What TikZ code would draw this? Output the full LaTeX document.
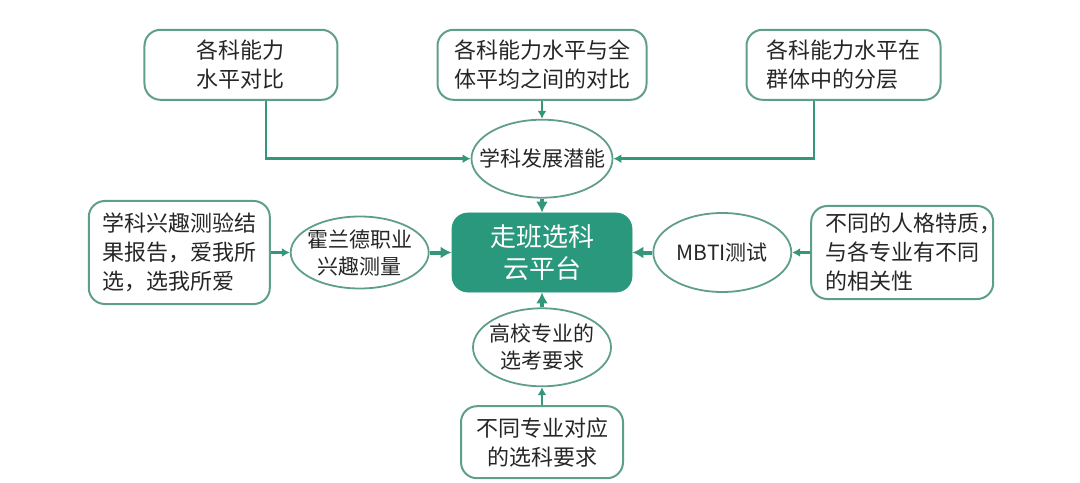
\documentclass[tikz,border=0pt]{standalone}
\usepackage{fontspec}
\newfontfamily\cjk{Noto Sans CJK SC}
\usepackage{tikz}
\usetikzlibrary{shapes,arrows.meta,positioning}
\usepackage{color}
\definecolor{zbteal}{RGB}{42,152,124}
\definecolor{zbline}{RGB}{95,158,138}
\definecolor{zbarrow}{RGB}{52,150,122}
\definecolor{zbtext}{RGB}{38,38,38}

\begin{document}
\begin{tikzpicture}[auto, >={Latex[length=4pt,width=4.5pt]},
	box/.style={draw=zbline, line width=1pt, rounded corners=8pt, text=zbtext, align=center,
		font=\cjk\fontsize{11}{14.5}\selectfont},
	oval/.style={draw=zbline, line width=0.9pt, ellipse, inner sep=0pt, minimum width=69pt},
	ovaltext/.style={text=zbtext, align=center, font=\cjk\fontsize{10.5}{13.5}\selectfont},
	platform/.style={draw=zbteal, fill=zbteal, rounded corners=8pt, text=white, align=center,
		font=\cjk\fontsize{13}{16}\selectfont},
	link/.style={->, draw=zbarrow, line width=1.3pt},
	mainlink/.style={-{Latex[length=5.5pt,width=6pt]}, draw=zbarrow, line width=2pt}]
	\useasboundingbox (-271pt,-114.75pt) rectangle (269pt,126.25pt);
	% the platform sits in the middle, everything else is placed around it
	\node [platform, minimum width=90pt, minimum height=39.5pt] (platform) {走班选科\\云平台};
	\node [oval, minimum width=70.5pt, minimum height=39pt, above=7pt of platform,
		label={[ovaltext]center:学科发展潜能}] (potential) {};
	\node [box, minimum width=104.5pt, minimum height=35pt, above=9pt of potential] (compare) {各科能力水平与全\\体平均之间的对比};
	\node [box, minimum width=96.5pt, minimum height=35pt, left=49pt of compare] (level) {各科能力\\水平对比};
	\node [box, align=left, minimum width=97pt, minimum height=35pt, right=49pt of compare] (layer) {各科能力水平在\\群体中的分层};
	\node [oval, minimum height=36pt, left=11pt of platform,
		label={[ovaltext]center:霍兰德职业\\兴趣测量}] (holland) {};
	\node [box, align=left, minimum width=90.5pt, minimum height=51.5pt, left=9.5pt of holland] (interest) {学科兴趣测验结\\果报告，爱我所\\选，选我所爱};
	\node [oval, minimum height=39.5pt, right=10pt of platform,
		label={[ovaltext]center:MBTI测试}] (mbti) {};
	\node [box, align=left, text width=77pt, inner xsep=7pt, minimum width=91pt, minimum height=46.5pt,
		right=9pt of mbti] (trait) {不同的人格特质，\\与各专业有不同\\的相关性};
	\node [oval, minimum height=39pt, below=7.5pt of platform,
		label={[ovaltext]center:高校专业的\\选考要求}] (college) {};
	\node [box, minimum width=81pt, minimum height=36pt, below=9pt of college] (major) {不同专业对应\\的选科要求};
	% connecting them
	\draw [link] ([xshift=12.5pt]level.south) |- (potential.west);
	\draw [link] (compare) -- (potential);
	\draw [link] ([xshift=-14.75pt]layer.south) |- (potential.east);
	\draw [mainlink] (potential) -- (platform);
	\draw [link] (interest) -- (holland);
	\draw [mainlink] (holland) -- (platform);
	\draw [link] (trait) -- (mbti);
	\draw [mainlink] (mbti) -- (platform);
	\draw [mainlink] (college) -- (platform);
	\draw [link] (major) -- (college);
\end{tikzpicture}
\end{document}
